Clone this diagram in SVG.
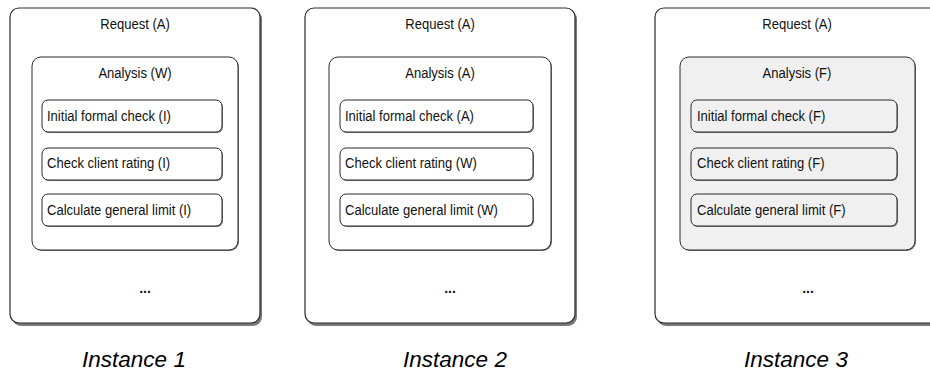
<svg xmlns="http://www.w3.org/2000/svg" width="930" height="372" viewBox="0 0 930 372">
<defs>
<style>
.outer{fill:#ffffff;stroke:#2a2a2a;stroke-width:1.2}
.inner{fill:#ffffff;stroke:#2a2a2a;stroke-width:1}
.innerF{fill:#f0f0f0;stroke:#2a2a2a;stroke-width:1}
.sub{fill:#ffffff;stroke:#2a2a2a;stroke-width:1}
.subF{fill:#f0f0f0;stroke:#2a2a2a;stroke-width:1}
.sh{fill:#7a7a7a}
.t{font-family:"Liberation Sans",Arial,sans-serif;font-size:14.5px;fill:#111}
.c{text-anchor:middle}
.dots{font-family:"Liberation Sans",Arial,sans-serif;font-size:14px;font-weight:bold;text-anchor:middle;fill:#111}
.cap{font-family:"Liberation Sans",Arial,sans-serif;font-size:22.5px;font-style:italic;text-anchor:middle;fill:#000}
</style>
</defs>
<rect width="930" height="372" fill="#ffffff"/>

<g id="instance1">
<rect class="sh" x="12" y="10" width="250" height="316" rx="9"/>
<rect class="outer" x="10" y="8" width="250" height="315" rx="9"/>
<text class="t c" transform="translate(135,29) scale(0.9,1)">Request (A)</text>
<g id="analysis1">
<rect class="sh" x="33" y="58" width="206" height="193" rx="9"/>
<rect class="inner" x="32" y="57" width="206" height="193" rx="9"/>
<text class="t c" transform="translate(135,78) scale(0.9,1)">Analysis (W)</text>
</g>
<g id="i1-task1"><rect class="sh" x="43" y="101" width="180" height="32" rx="6"/><rect class="sub" x="42" y="100" width="180" height="32" rx="6"/><text class="t" transform="translate(47,121) scale(0.9,1)">Initial formal check (I)</text></g>
<g id="i1-task2"><rect class="sh" x="43" y="149" width="180" height="32" rx="6"/><rect class="sub" x="42" y="148" width="180" height="32" rx="6"/><text class="t" transform="translate(47,168) scale(0.9,1)">Check client rating (I)</text></g>
<g id="i1-task3"><rect class="sh" x="43" y="195" width="180" height="32" rx="6"/><rect class="sub" x="42" y="194" width="180" height="32" rx="6"/><text class="t" transform="translate(47,215) scale(0.9,1)">Calculate general limit (I)</text></g>
<text class="dots" x="145" y="293">...</text>
</g>

<g id="instance2">
<rect class="sh" x="307" y="10" width="270" height="316" rx="9"/>
<rect class="outer" x="305" y="8" width="270" height="315" rx="9"/>
<text class="t c" transform="translate(440,29) scale(0.9,1)">Request (A)</text>
<g id="analysis2">
<rect class="sh" x="330" y="58" width="222" height="193" rx="9"/>
<rect class="inner" x="329" y="57" width="222" height="193" rx="9"/>
<text class="t c" transform="translate(440,78) scale(0.9,1)">Analysis (A)</text>
</g>
<g id="i2-task1"><rect class="sh" x="341" y="101" width="193" height="32" rx="6"/><rect class="sub" x="340" y="100" width="193" height="32" rx="6"/><text class="t" transform="translate(345,121) scale(0.9,1)">Initial formal check (A)</text></g>
<g id="i2-task2"><rect class="sh" x="341" y="149" width="193" height="32" rx="6"/><rect class="sub" x="340" y="148" width="193" height="32" rx="6"/><text class="t" transform="translate(345,168) scale(0.9,1)">Check client rating (W)</text></g>
<g id="i2-task3"><rect class="sh" x="341" y="195" width="193" height="32" rx="6"/><rect class="sub" x="340" y="194" width="193" height="32" rx="6"/><text class="t" transform="translate(345,215) scale(0.9,1)">Calculate general limit (W)</text></g>
<text class="dots" x="450" y="293">...</text>
</g>

<g id="instance3">
<rect class="sh" x="657" y="10" width="290" height="316" rx="9"/>
<rect class="outer" x="655" y="8" width="290" height="315" rx="9"/>
<text class="t c" transform="translate(797,29) scale(0.9,1)">Request (A)</text>
<g id="analysis3">
<rect class="sh" x="681" y="58" width="235" height="193" rx="9"/>
<rect class="innerF" x="680" y="57" width="235" height="193" rx="9"/>
<text class="t c" transform="translate(797,78) scale(0.9,1)">Analysis (F)</text>
</g>
<g id="i3-task1"><rect class="sh" x="692" y="101" width="206" height="32" rx="6"/><rect class="subF" x="691" y="100" width="206" height="32" rx="6"/><text class="t" transform="translate(697,121) scale(0.9,1)">Initial formal check (F)</text></g>
<g id="i3-task2"><rect class="sh" x="692" y="149" width="206" height="32" rx="6"/><rect class="subF" x="691" y="148" width="206" height="32" rx="6"/><text class="t" transform="translate(697,168) scale(0.9,1)">Check client rating (F)</text></g>
<g id="i3-task3"><rect class="sh" x="692" y="195" width="206" height="32" rx="6"/><rect class="subF" x="691" y="194" width="206" height="32" rx="6"/><text class="t" transform="translate(697,215) scale(0.9,1)">Calculate general limit (F)</text></g>
<text class="dots" x="808" y="293">...</text>
</g>

<g id="connectors"></g>

<text class="cap" x="134" y="367">Instance 1</text>
<text class="cap" x="455" y="367">Instance 2</text>
<text class="cap" x="796" y="367">Instance 3</text>
</svg>
